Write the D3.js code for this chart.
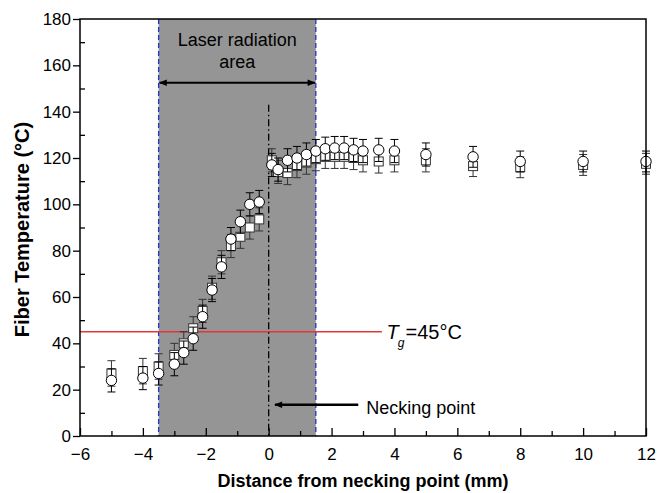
<!DOCTYPE html>
<html lang="en">
<head>
    <meta charset="UTF-8">
    <title>Fiber Temperature</title>
    <script src="https://d3js.org/d3.v7.min.js"></script>
    <style>
        body { margin: 0; background: #fff; font-family: "Liberation Sans", Arial, sans-serif; }
        svg { display: block; }
        .tick-label { font-size: 17px; fill: #000; }
        .axis-title { font-size: 18px; font-weight: bold; fill: #000; }
        .note { font-size: 18px; fill: #000; }
    </style>
</head>
<body>
    <svg id="chart" width="659" height="493"></svg>

    <script>
    // distance from the necking point (mm)
    const distance = [-5, -4, -3.5, -3, -2.7, -2.4, -2.1, -1.8, -1.5, -1.2, -0.9, -0.6, -0.3,
        0.1, 0.3, 0.6, 0.9, 1.2, 1.5, 1.8, 2.1, 2.4, 2.7, 3.0, 3.5, 4, 5, 6.5, 8, 10, 12];
    // circle series (°C)
    const circleTemp = [24, 25, 27, 31, 36, 42, 51.5, 63, 73, 85, 92.5, 100, 101,
        117, 115, 119, 120, 121.5, 123, 124, 124.3, 124.3, 123.5, 123, 123.5, 123, 121.5, 120.5, 118.5, 118.5, 118.5];
    const circleErr = [5, 5, 5, 5, 5, 5, 5, 5, 5, 5, 5, 5, 5,
        5, 5, 5, 5, 5, 5, 5, 5, 5, 5, 5, 5, 5, 5, 4.5, 4.5, 4.5, 4.5];
    // square series (°C)
    const squareTemp = [27, 28, 30, 35, 40, 46.5, 54, 64, 75, 82, 86, 90, 93.5,
        119, 114, 113.5, 116.5, 118, 119.5, 120.5, 120.5, 120.5, 120, 119, 118.5, 119, 119, 116.5, 116, 117, 117.5];
    const squareErr = [5.5, 5.5, 5.5, 5, 5, 5, 5, 5, 5, 5, 5, 5, 5,
        5, 5, 5, 5, 5, 5, 5, 5, 5, 5, 5, 5, 5, 5, 4.5, 4.5, 4.5, 4.5];

    const xTicks = [-6, -4, -2, 0, 2, 4, 6, 8, 10, 12];
    const yTicks = [0, 20, 40, 60, 80, 100, 120, 140, 160, 180];

    const laserArea = [-3.5, 1.5];
    const tg = 45;

    const width = 659, height = 493;
    const margin = {left: 80, right: 13, top: 19, bottom: 57};

    const svg = d3.select('#chart');

    const x = d3.scaleLinear().domain([-6, 12]).range([margin.left, width - margin.right]);
    const y = d3.scaleLinear().domain([0, 180]).range([height - margin.bottom, margin.top]);

    // laser radiation area
    svg.append('rect')
        .attr('x', x(laserArea[0]))
        .attr('y', y(180))
        .attr('width', x(laserArea[1]) - x(laserArea[0]))
        .attr('height', y(0) - y(180))
        .attr('fill', '#959595');

    svg.selectAll('.edge')
        .data(laserArea)
        .join('line')
        .attr('class', 'edge')
        .attr('x1', d => x(d)).attr('x2', d => x(d))
        .attr('y1', y(180)).attr('y2', y(0))
        .attr('stroke', '#2233cc')
        .attr('stroke-width', 1.3)
        .attr('stroke-dasharray', '5,3');

    // Tg line
    svg.append('line')
        .attr('x1', x(-6)).attr('x2', x(3.6))
        .attr('y1', y(tg)).attr('y2', y(tg))
        .attr('stroke', '#e53535')
        .attr('stroke-width', 1.6);

    const tgText = svg.append('text')
        .attr('x', x(3.75)).attr('y', y(tg) + 7)
        .style('font-size', '20px');
    tgText.append('tspan').attr('font-style', 'italic').text('T');
    tgText.append('tspan').attr('font-style', 'italic').attr('dy', 8).attr('dx', -1).style('font-size', '12px').text('g');
    tgText.append('tspan').attr('dy', -8).attr('dx', 1).text('=45°C');

    // necking point line
    svg.append('line')
        .attr('x1', x(0)).attr('x2', x(0))
        .attr('y1', y(143)).attr('y2', y(0))
        .attr('stroke', '#000')
        .attr('stroke-width', 1.3)
        .attr('stroke-dasharray', '7,3,1.5,3');

    // arrows
    const defs = svg.append('defs');
    defs.append('marker')
        .attr('id', 'head')
        .attr('viewBox', '0 0 10 10')
        .attr('refX', 9).attr('refY', 5)
        .attr('markerWidth', 10).attr('markerHeight', 8)
        .attr('markerUnits', 'userSpaceOnUse')
        .attr('orient', 'auto-start-reverse')
        .append('path')
        .attr('d', 'M0,1 L10,5 L0,9 Z')
        .attr('fill', '#000');

    svg.append('line')
        .attr('x1', x(laserArea[0]) + 1).attr('x2', x(laserArea[1]) - 1)
        .attr('y1', y(152.5)).attr('y2', y(152.5))
        .attr('stroke', '#000').attr('stroke-width', 2)
        .attr('marker-start', 'url(#head)')
        .attr('marker-end', 'url(#head)');

    svg.append('text').attr('class', 'note')
        .attr('x', x(-1)).attr('y', y(168.5))
        .attr('text-anchor', 'middle').text('Laser radiation');
    svg.append('text').attr('class', 'note')
        .attr('x', x(-1)).attr('y', y(159))
        .attr('text-anchor', 'middle').text('area');

    svg.append('line')
        .attr('x1', x(2.85)).attr('x2', x(0.2))
        .attr('y1', y(13.5)).attr('y2', y(13.5))
        .attr('stroke', '#000').attr('stroke-width', 2.5)
        .attr('marker-end', 'url(#head)');

    svg.append('text').attr('class', 'note')
        .attr('x', x(3.1)).attr('y', y(9.5))
        .text('Necking point');

    // error bars + markers
    function drawSeries(temps, errs, color, shape) {
        const g = svg.append('g');
        const pts = distance.map((d, i) => ({d, t: temps[i], e: errs[i]}));
        const cap = 4;
        pts.forEach(p => {
            const cx = x(p.d), top = y(p.t + p.e), bot = y(p.t - p.e);
            g.append('line').attr('x1', cx).attr('x2', cx).attr('y1', top).attr('y2', bot)
                .attr('stroke', color).attr('stroke-width', 1);
            [top, bot].forEach(v => g.append('line')
                .attr('x1', cx - cap).attr('x2', cx + cap).attr('y1', v).attr('y2', v)
                .attr('stroke', color).attr('stroke-width', 1));
        });
        if (shape === 'circle') {
            g.selectAll('circle').data(pts).join('circle')
                .attr('cx', p => x(p.d)).attr('cy', p => y(p.t)).attr('r', 5.2)
                .attr('fill', '#fff').attr('stroke', color).attr('stroke-width', 1);
        } else {
            g.selectAll('rect').data(pts).join('rect')
                .attr('x', p => x(p.d) - 4.5).attr('y', p => y(p.t) - 4.5)
                .attr('width', 9).attr('height', 9)
                .attr('fill', '#fff').attr('stroke', color).attr('stroke-width', 1);
        }
    }
    drawSeries(squareTemp, squareErr, '#333', 'square');
    drawSeries(circleTemp, circleErr, '#000', 'circle');

    // frame
    svg.append('rect')
        .attr('x', x(-6)).attr('y', y(180))
        .attr('width', x(12) - x(-6)).attr('height', y(0) - y(180))
        .attr('fill', 'none').attr('stroke', '#000').attr('stroke-width', 1.5);

    // x axis ticks (inward)
    const xAxis = d3.axisBottom(x).tickValues(xTicks).tickSize(-8).tickPadding(12).tickFormat(d => d < 0 ? '\u2212' + Math.abs(d) : d);
    const gx = svg.append('g').attr('transform', `translate(0,${y(0)})`).call(xAxis);
    gx.select('.domain').remove();
    gx.selectAll('line').attr('stroke-width', 1.3);
    gx.selectAll('text').attr('class', 'tick-label').attr('font-family', null).attr('font-size', null);
    const gxm = svg.append('g').attr('transform', `translate(0,${y(0)})`)
        .call(d3.axisBottom(x).tickValues(d3.range(-5, 12, 2)).tickSize(-5).tickFormat(''));
    gxm.select('.domain').remove();
    gxm.selectAll('line').attr('stroke-width', 1.3);

    // y axis ticks (major outward, minor inward)
    const gy = svg.append('g').attr('transform', `translate(${x(-6)},0)`)
        .call(d3.axisLeft(y).tickValues(yTicks).tickSize(7).tickPadding(2));
    gy.select('.domain').remove();
    gy.selectAll('line').attr('stroke-width', 1.3);
    gy.selectAll('text').attr('class', 'tick-label').attr('font-family', null).attr('font-size', null);
    const gym = svg.append('g').attr('transform', `translate(${x(-6)},0)`)
        .call(d3.axisLeft(y).tickValues(d3.range(10, 180, 20)).tickSize(-5).tickFormat(''));
    gym.select('.domain').remove();
    gym.selectAll('line').attr('stroke-width', 1.3);

    // axis titles
    svg.append('text').attr('class', 'axis-title')
        .attr('x', (x(-6) + x(12)) / 2).attr('y', 487)
        .attr('text-anchor', 'middle')
        .text('Distance from necking point (mm)');
    svg.append('text').attr('class', 'axis-title')
        .attr('transform', `translate(29,${(y(0) + y(180)) / 2 + 2}) rotate(-90)`)
        .attr('text-anchor', 'middle')
        .style('font-size', '20px')
        .text('Fiber Temperature (°C)');
    </script>
</body>
</html>
